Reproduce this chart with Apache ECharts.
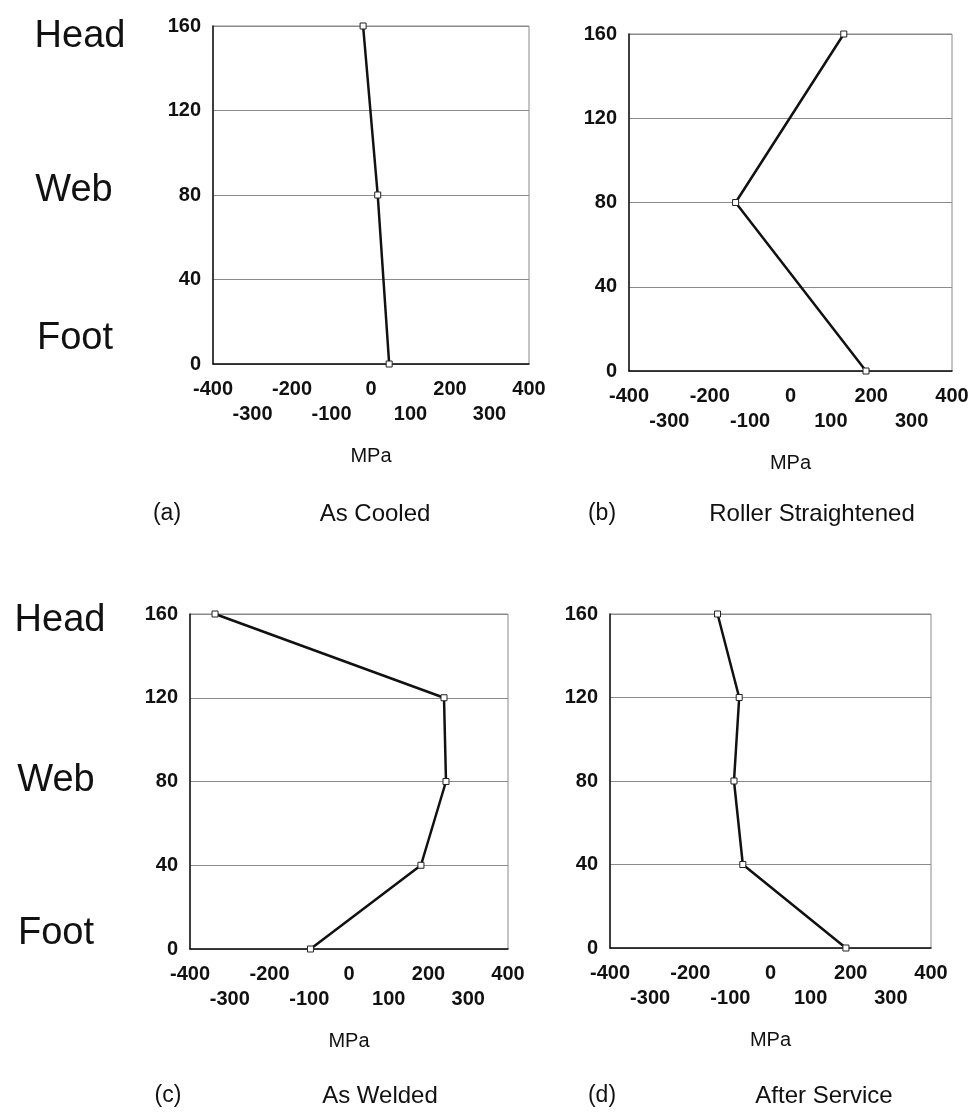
<!DOCTYPE html>
<html>
<head>
<meta charset="utf-8">
<script src="https://cdn.jsdelivr.net/npm/echarts@6/dist/echarts.min.js"></script>
<style>
  html, body { margin: 0; padding: 0; background: #fff; }
  #chart { width: 977px; height: 1112px; }
</style>
</head>
<body>
<div id="chart"></div>
<script>
// Residual stress (MPa) through the rail height (mm) for four rail conditions
const heightTicks = [0, 40, 80, 120, 160];
const stressTicksUpper = [-400, -200, 0, 200, 400];
const stressTicksLower = [-300, -100, 100, 300];

const asCooledHeight = [0, 80, 160];
const asCooledStress = [46, 17, -20];

const rollerHeight = [0, 80, 160];
const rollerStress = [187, -136, 132];

const weldedHeight = [0, 40, 80, 120, 160];
const weldedStress = [-97, 181, 244, 239, -337];

const serviceHeight = [0, 40, 80, 120, 160];
const serviceStress = [188, -69, -91, -78, -132];

const panelLetters = ['(a)', '(b)', '(c)', '(d)'];
const panelTitles = ['As Cooled', 'Roller Straightened', 'As Welded', 'After Service'];
const regionNames = ['Head', 'Web', 'Foot'];
const axisName = 'MPa';

const FONT = '"Liberation Sans", Arial, Helvetica, sans-serif';
const X_MIN = stressTicksUpper[0];
const X_MAX = stressTicksUpper[stressTicksUpper.length - 1];

const panels = [
  { h: asCooledHeight, s: asCooledStress, grid: { left: 213, top: 26, width: 316, height: 338 } },
  { h: rollerHeight, s: rollerStress, grid: { left: 629, top: 34, width: 323, height: 337 } },
  { h: weldedHeight, s: weldedStress, grid: { left: 190, top: 614, width: 318, height: 335 } },
  { h: serviceHeight, s: serviceStress, grid: { left: 610, top: 614, width: 321, height: 334 } }
];

const grids = panels.map(p => Object.assign({
  show: true, borderColor: '#8a8a8a', borderWidth: 1, backgroundColor: 'transparent'
}, p.grid));

const labelFont = { fontFamily: FONT, fontWeight: 'bold', fontSize: 20, color: '#111' };

// Each panel gets two bottom axes: even hundreds on the upper row, odd hundreds below
const xAxes = [];
panels.forEach((p, i) => {
  xAxes.push({
    type: 'value', gridIndex: i, position: 'bottom',
    min: X_MIN, max: X_MAX, interval: 100,
    name: axisName, nameLocation: 'middle', nameGap: 82,
    nameTextStyle: { fontFamily: FONT, fontSize: 20, color: '#111' },
    axisLine: { show: true, onZero: false, lineStyle: { color: '#111', width: 1.5 } },
    axisTick: { show: false },
    splitLine: { show: false },
    axisLabel: Object.assign({ margin: 15, customValues: stressTicksUpper }, labelFont)
  });
  xAxes.push({
    type: 'value', gridIndex: i, position: 'bottom', offset: 0,
    min: X_MIN, max: X_MAX, interval: 100,
    axisLine: { show: false },
    axisTick: { show: false },
    splitLine: { show: false },
    axisLabel: Object.assign({ margin: 40, customValues: stressTicksLower }, labelFont)
  });
});

const yAxes = panels.map((p, i) => ({
  type: 'value', gridIndex: i,
  min: heightTicks[0], max: heightTicks[heightTicks.length - 1], interval: 40,
  axisLine: { show: true, onZero: false, lineStyle: { color: '#111', width: 1.5 } },
  axisTick: { show: false },
  splitLine: { show: true, lineStyle: { color: '#8a8a8a', width: 1 } },
  axisLabel: Object.assign({ margin: 12 }, labelFont)
}));

const series = panels.map((p, i) => ({
  type: 'line', xAxisIndex: 2 * i, yAxisIndex: i,
  data: p.h.map((h, k) => [p.s[k], h]),
  symbol: 'rect', symbolSize: 6, showAllSymbol: true,
  lineStyle: { color: '#111', width: 2.5 },
  itemStyle: { color: '#fff', borderColor: '#222', borderWidth: 1 },
  clip: false, animation: false
}));

// Side labels for rail regions and captions under each panel
const txt = (text, x, y, size) => ({
  type: 'text', x: x, y: y,
  style: { text: text, fontFamily: FONT, fontSize: size, fill: '#111', align: 'center', verticalAlign: 'middle' }
});

const sidePos = [
  [[80, 37], [74, 191], [75, 339]],
  [[60, 621], [56, 781], [56, 934]]
];
const captionPos = [
  [[167, 514], [375, 514]],
  [[602, 514], [812, 514]],
  [[168, 1096], [380, 1096]],
  [[602, 1096], [824, 1096]]
];

const graphics = [];
sidePos.forEach(group => group.forEach((pos, k) => graphics.push(txt(regionNames[k], pos[0], pos[1], 38))));
captionPos.forEach((pos, i) => {
  graphics.push(txt(panelLetters[i], pos[0][0], pos[0][1], 23));
  graphics.push(txt(panelTitles[i], pos[1][0], pos[1][1], 24));
});

const chart = echarts.init(document.getElementById('chart'), null, { renderer: 'canvas' });
chart.setOption({
  backgroundColor: '#fff',
  animation: false,
  grid: grids,
  xAxis: xAxes,
  yAxis: yAxes,
  series: series,
  graphic: graphics
});
</script>
</body>
</html>
